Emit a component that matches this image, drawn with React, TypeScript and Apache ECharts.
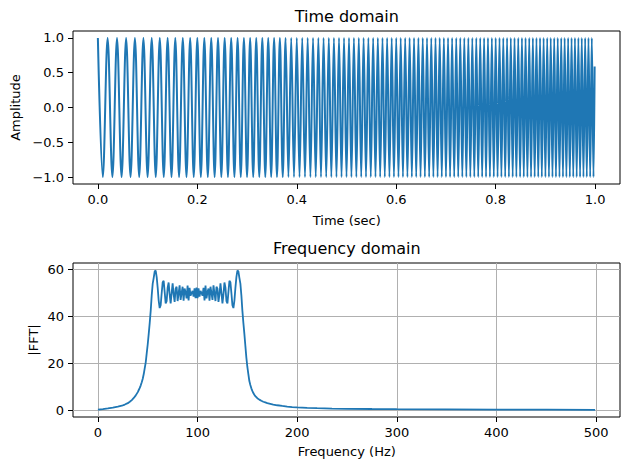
import React, { useEffect, useRef } from "react";
import * as echarts from "echarts";

// ---- Time domain: extrema (peaks / troughs) of the swept signal ----
const timeExtrema = [
  0.0000, 0.0099, 0.0196, 0.0292, 0.0385, 0.0477, 0.0568, 0.0657, 0.0745, 0.0831,
  0.0916, 0.1000, 0.1083, 0.1164, 0.1245, 0.1325, 0.1403, 0.1481, 0.1557, 0.1633,
  0.1708, 0.1782, 0.1856, 0.1928, 0.2000, 0.2071, 0.2141, 0.2211, 0.2280, 0.2348,
  0.2416, 0.2483, 0.2550, 0.2616, 0.2681, 0.2746, 0.2810, 0.2874, 0.2937, 0.3000,
  0.3062, 0.3124, 0.3185, 0.3246, 0.3307, 0.3367, 0.3426, 0.3485, 0.3544, 0.3602,
  0.3660, 0.3718, 0.3775, 0.3832, 0.3888, 0.3944, 0.4000, 0.4055, 0.4110, 0.4165,
  0.4219, 0.4274, 0.4327, 0.4381, 0.4434, 0.4487, 0.4539, 0.4592, 0.4644, 0.4695,
  0.4747, 0.4798, 0.4849, 0.4900, 0.4950, 0.5000, 0.5050, 0.5099, 0.5149, 0.5198,
  0.5247, 0.5296, 0.5344, 0.5392, 0.5440, 0.5488, 0.5536, 0.5583, 0.5630, 0.5677,
  0.5724, 0.5770, 0.5817, 0.5863, 0.5909, 0.5954, 0.6000, 0.6045, 0.6090, 0.6135,
  0.6180, 0.6225, 0.6269, 0.6314, 0.6358, 0.6402, 0.6446, 0.6489, 0.6533, 0.6576,
  0.6619, 0.6662, 0.6705, 0.6747, 0.6790, 0.6832, 0.6874, 0.6916, 0.6958, 0.7000,
  0.7042, 0.7083, 0.7124, 0.7166, 0.7207, 0.7247, 0.7288, 0.7329, 0.7369, 0.7410,
  0.7450, 0.7490, 0.7530, 0.7570, 0.7610, 0.7649, 0.7689, 0.7728, 0.7767, 0.7806,
  0.7845, 0.7884, 0.7923, 0.7962, 0.8000, 0.8038, 0.8077, 0.8115, 0.8153, 0.8191,
  0.8229, 0.8266, 0.8304, 0.8342, 0.8379, 0.8416, 0.8454, 0.8491, 0.8528, 0.8565,
  0.8601, 0.8638, 0.8675, 0.8711, 0.8748, 0.8784, 0.8820, 0.8856, 0.8892, 0.8928,
  0.8964, 0.9000, 0.9036, 0.9071, 0.9107, 0.9142, 0.9177, 0.9212, 0.9248, 0.9283,
  0.9318, 0.9353, 0.9387, 0.9422, 0.9457, 0.9491, 0.9526, 0.9560, 0.9594, 0.9629,
  0.9663, 0.9697, 0.9731, 0.9765, 0.9799, 0.9832, 0.9866, 0.9900, 0.9933, 0.9967,
  0.999,
];
const ampExtrema = [
  1, -1, 1, -1, 1, -1, 1, -1, 1, -1, 1, -1, 1, -1, 1, -1, 1, -1, 1, -1,
  1, -1, 1, -1, 1, -1, 1, -1, 1, -1, 1, -1, 1, -1, 1, -1, 1, -1, 1, -1,
  1, -1, 1, -1, 1, -1, 1, -1, 1, -1, 1, -1, 1, -1, 1, -1, 1, -1, 1, -1,
  1, -1, 1, -1, 1, -1, 1, -1, 1, -1, 1, -1, 1, -1, 1, -1, 1, -1, 1, -1,
  1, -1, 1, -1, 1, -1, 1, -1, 1, -1, 1, -1, 1, -1, 1, -1, 1, -1, 1, -1,
  1, -1, 1, -1, 1, -1, 1, -1, 1, -1, 1, -1, 1, -1, 1, -1, 1, -1, 1, -1,
  1, -1, 1, -1, 1, -1, 1, -1, 1, -1, 1, -1, 1, -1, 1, -1, 1, -1, 1, -1,
  1, -1, 1, -1, 1, -1, 1, -1, 1, -1, 1, -1, 1, -1, 1, -1, 1, -1, 1, -1,
  1, -1, 1, -1, 1, -1, 1, -1, 1, -1, 1, -1, 1, -1, 1, -1, 1, -1, 1, -1,
  1, -1, 1, -1, 1, -1, 1, -1, 1, -1, 1, -1, 1, -1, 1, -1, 1, -1, 1, -1,
  0.59,
];

// ---- Frequency domain: |FFT| ----
const freqHz = [
  0, 5, 10, 15, 20, 24, 27, 30, 32, 34, 36, 38, 40,
  41, 42, 43, 44, 45, 46, 47, 48, 49, 50,
  51, 52, 53, 54, 55, 56, 57, 58, 59, 60,
  61, 62, 63, 64, 65, 66, 67, 68, 69, 70,
  71, 72, 73, 74, 75, 76, 77, 78, 79, 80,
  81, 82, 83, 84, 85, 86, 87, 88, 89, 90,
  91, 92, 93, 94, 95, 96, 97, 98, 99, 100,
  101, 102, 103, 104, 105, 106, 107, 108, 109, 110,
  111, 112, 113, 114, 115, 116, 117, 118, 119, 120,
  121, 122, 123, 124, 125, 126, 127, 128, 129, 130,
  131, 132, 133, 134, 135, 136, 137, 138, 139, 140,
  141, 142, 143, 144, 145, 146, 147, 148, 149, 150,
  151, 152, 153, 154, 155, 156, 157, 158, 160, 162,
  164, 166, 168, 170, 173, 176, 180, 185, 190, 195,
  200, 210, 220, 235, 250, 275, 300, 350, 400, 450, 499,
];
const fftMag = [
  0.35, 0.55, 0.85, 1.2, 1.6, 2.0, 2.5, 3.1, 3.7, 4.4, 5.3, 6.4, 7.8,
  8.7, 9.6, 10.7, 12.0, 13.5, 15.5, 18.0, 20.5, 24.4, 28.2,
  32.6, 37.3, 42.5, 49.0, 54.0, 56.5, 59.2, 59.6, 56.8, 52.2,
  46.8, 43.6, 44.8, 49.9, 54.6, 55.2, 50.5, 45.6, 46.6, 52.3,
  54.5, 49.4, 45.6, 50.0, 54.1, 49.5, 46.2, 51.9, 52.7, 46.6,
  49.9, 53.3, 47.1, 50.0, 52.7, 46.7, 51.9, 50.4, 47.7, 53.2,
  46.9, 52.2, 48.9, 50.0, 50.9, 48.5, 52.0, 47.8, 52.3, 47.8,
  52.0, 48.5, 50.9, 50.0, 48.9, 52.2, 46.9, 53.2, 47.7, 50.4,
  51.9, 46.7, 52.7, 50.0, 47.1, 53.3, 49.9, 46.6, 52.7, 51.9,
  46.2, 49.5, 54.1, 50.0, 45.6, 49.4, 54.5, 52.3, 46.6, 45.6,
  50.5, 55.2, 54.6, 49.9, 44.8, 43.6, 46.8, 52.2, 56.8, 59.6,
  59.2, 56.5, 54.0, 49.0, 42.5, 37.3, 32.6, 27.5, 22.5, 18.5,
  15.5, 12.5, 10.8, 9.4, 8.3, 7.4, 6.7, 6.1, 5.2, 4.6,
  4.1, 3.7, 3.4, 3.1, 2.8, 2.5, 2.2, 1.9, 1.65, 1.45,
  1.3, 1.1, 0.95, 0.8, 0.7, 0.6, 0.52, 0.42, 0.35, 0.3, 0.27,
];

// ---- Tick values ----
const timeTicks = [0, 0.2, 0.4, 0.6, 0.8, 1.0];
const ampTicks = [-1, -0.5, 0, 0.5, 1];
const freqTicks = [0, 100, 200, 300, 400, 500];
const magTicks = [0, 20, 40, 60];

const FONT = "DejaVu Sans";
const BLUE = "#1f77b4";

const fmt1 = (v: number) => v.toFixed(1).replace("-", "\u2212");
const fmt0 = (v: number) => String(Math.round(v)).replace("-", "\u2212");

export default function App() {
  const ref = useRef<HTMLDivElement>(null);

  useEffect(() => {
    document.body.style.margin = "0";
    if (!ref.current) return;
    const chart = echarts.init(ref.current, undefined, { renderer: "svg" });

    const tickStyle = { color: "#000", width: 1 };
    const labelBase = { color: "#000", fontSize: 13, fontFamily: FONT };

    const axisBase = (gi: number, min: number, max: number, ticks: number[], fmt: any, grid: boolean) => ({
      gridIndex: gi,
      type: "value",
      min,
      max,
      axisLine: { show: false, onZero: false },
      axisTick: { show: true, length: 5, customValues: ticks, lineStyle: tickStyle },
      axisLabel: { ...labelBase, margin: 9, customValues: ticks, formatter: fmt },
      splitLine: { show: grid, lineStyle: { color: "#b0b0b0", width: 1 } },
    });

    const timeData = timeExtrema.map((t, i) => [t, ampExtrema[i]]);
    const fftData = freqHz.map((f, i) => [f, fftMag[i]]);

    const option: any = {
      animation: false,
      backgroundColor: "#fff",
      grid: [
        { left: 73, top: 31, width: 547, height: 153, show: true, borderColor: "#000", borderWidth: 1, backgroundColor: "transparent" },
        { left: 73, top: 263, width: 547, height: 154, show: true, borderColor: "#000", borderWidth: 1, backgroundColor: "transparent" },
      ],
      xAxis: [
        axisBase(0, -0.05, 1.05, timeTicks, fmt1, false),
        axisBase(1, -25, 524, freqTicks, fmt0, true),
      ],
      yAxis: [
        axisBase(0, -1.1, 1.1, ampTicks, fmt1, false),
        axisBase(1, -2.8, 62.8, magTicks, fmt0, true),
      ],
      series: [
        {
          type: "line",
          xAxisIndex: 0,
          yAxisIndex: 0,
          data: timeData,
          showSymbol: false,
          smooth: 0.36,
          lineStyle: { color: BLUE, width: 2 },
          z: 3,
        },
        {
          type: "line",
          xAxisIndex: 1,
          yAxisIndex: 1,
          data: fftData,
          showSymbol: false,
          lineStyle: { color: BLUE, width: 1.8 },
          z: 3,
        },
      ],
      graphic: [
        { type: "text", x: 346.8, y: 16, style: { text: "Time domain", align: "center", verticalAlign: "middle", fontSize: 16, fontFamily: FONT, fill: "#000" } },
        { type: "text", x: 346.8, y: 248.5, style: { text: "Frequency domain", align: "center", verticalAlign: "middle", fontSize: 16, fontFamily: FONT, fill: "#000" } },
        { type: "text", x: 346.8, y: 220, style: { text: "Time (sec)", align: "center", verticalAlign: "middle", fontSize: 13, fontFamily: FONT, fill: "#000" } },
        { type: "text", x: 346.8, y: 451.5, style: { text: "Frequency (Hz)", align: "center", verticalAlign: "middle", fontSize: 13, fontFamily: FONT, fill: "#000" } },
        { type: "text", x: 15, y: 107.5, rotation: Math.PI / 2, style: { text: "Amplitude", align: "center", verticalAlign: "middle", fontSize: 13, fontFamily: FONT, fill: "#000" } },
        { type: "text", x: 33.5, y: 340, rotation: Math.PI / 2, style: { text: "|FFT|", align: "center", verticalAlign: "middle", fontSize: 13, fontFamily: FONT, fill: "#000" } },
      ],
    };

    chart.setOption(option);
    return () => chart.dispose();
  }, []);

  return <div ref={ref} style={{ width: 629, height: 470 }} />;
}
